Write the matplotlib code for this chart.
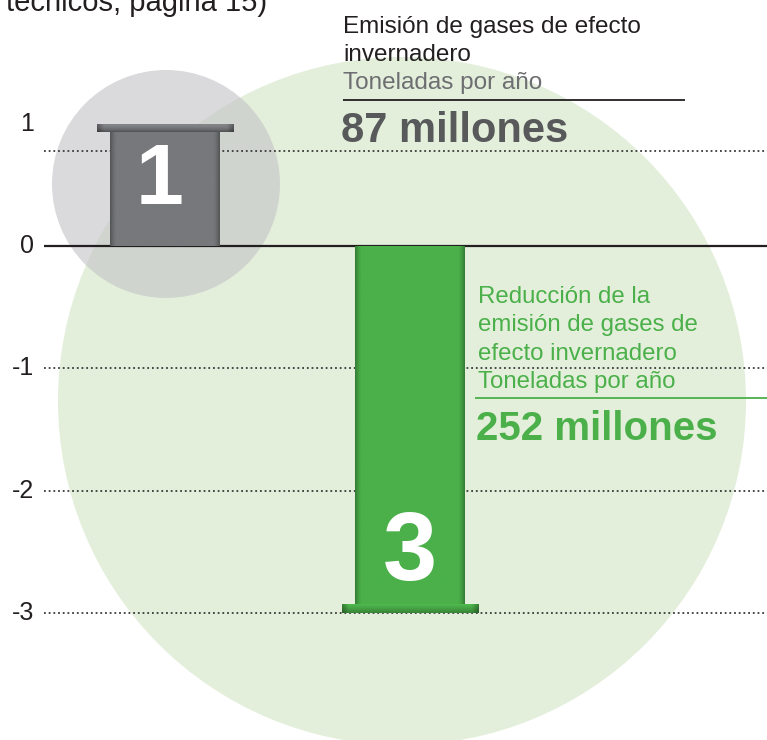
import numpy as np
import matplotlib.pyplot as plt
from matplotlib.patches import Ellipse
from matplotlib.colors import to_rgb

plt.rcParams['font.family'] = ['Liberation Sans', 'DejaVu Sans']

# ---------------- data ----------------
categories = ['Emisión', 'Reducción']
values = [1, -3]
bar_labels = ['1', '3']
ytick_values = [1, 0, -1, -2, -3]
ytick_labels = ['1', '0', '-1', '-2', '-3']
grid_values = [0.78, -1, -2, -3]
emission_title = ['Emisión de gases de efecto', 'invernadero']
emission_unit = 'Toneladas por año'
emission_amount = '87 millones'
reduction_title = ['Reducción de la', 'emisión de gases de', 'efecto invernadero']
reduction_unit = 'Toneladas por año'
reduction_amount = '252 millones'
source_text = 'técnicos, página 15)'

# ---------------- layout ----------------
W, H = 767, 740
PX = 122.3   # pixels per unit
Y0 = 246     # pixel row of zero


def vy(p):
    return (Y0 - p) / PX


fig = plt.figure(figsize=(W / 100, H / 100), dpi=100)
ax = fig.add_axes([0, 0, 1, 1])
ax.set_xlim(0, W)
ax.set_ylim(vy(H), vy(0))
ax.axis('off')

GREEN = '#4bb04a'
GREEN_LIGHT = '#e3efdb'
GRAY_BAR = '#77787b'

# background circles
ax.add_patch(Ellipse((402, vy(401)), 2 * 344, 2 * 344 / PX, color=GREEN_LIGHT, zorder=1, lw=0))
ax.add_patch(Ellipse((166, vy(184)), 2 * 114, 2 * 114 / PX, color='#c4c4c8', alpha=0.62, zorder=2, lw=0))

# grid lines
ax.hlines(grid_values, 44, W, colors='#3a3a3a', linestyles=(0, (1, 1.6)), lw=1.3, zorder=3)
ax.hlines(0, 44, W, colors='#231f20', lw=1.6, zorder=4)

# y labels
for v, lab in zip(ytick_values, ytick_labels):
    ax.text(34, v, lab, ha='right', va='center', fontsize=18, color='#231f20', zorder=6)


def shade(color, k):
    c = np.array(to_rgb(color))
    return np.clip(c * k, 0, 1)


def shaded_bar(x, v, width, cap_w, cap_h, base):
    bars = ax.bar([x], [v], width=width, bottom=0, color=base, zorder=5, lw=0)
    patch = bars[0]
    n = 200
    t = np.linspace(0, 1, n)
    edge = np.clip(1 - np.minimum(t, 1 - t) / 0.06, 0, 1)
    k = 1 - 0.3 * edge ** 1.5
    img = np.array([shade(base, kk) for kk in k])[None, :, :]
    y0, y1 = sorted([0, v])
    im = ax.imshow(img, extent=(x - width / 2, x + width / 2, y0, y1), aspect='auto',
                   zorder=5.1, interpolation='bilinear')
    im.set_clip_path(patch)
    # cap at the value end
    if v > 0:
        cb = v - cap_h
    else:
        cb = v
    caps = ax.bar([x], [cap_h], width=cap_w, bottom=cb, color=base, zorder=5.5, lw=0)
    tv = np.linspace(0, 1, 40)
    if v > 0:
        kv = 1.12 - 0.45 * tv[::-1] ** 2
        kv = kv[::-1]
    else:
        kv = 0.75 + 0.35 * tv
    th = np.linspace(0, 1, 200)
    eh = np.clip(1 - np.minimum(th, 1 - th) / 0.05, 0, 1)
    khh = 1 - 0.3 * eh
    grid = np.outer(kv, khh)
    img2 = np.stack([shade(base, 1)[None, None, i] * grid for i in range(3)], axis=-1)
    img2 = np.clip(img2, 0, 1)
    im2 = ax.imshow(img2, extent=(x - cap_w / 2, x + cap_w / 2, cb, cb + cap_h), aspect='auto',
                    origin='upper' if v > 0 else 'lower', zorder=5.6, interpolation='bilinear')
    im2.set_clip_path(caps[0])
    return patch


shaded_bar(165, values[0], 110, 137, 0.07, GRAY_BAR)
shaded_bar(410, values[1], 110, 137, 0.075, GREEN)

# big numbers on bars
ax.text(160, vy(182), bar_labels[0], ha='center', va='center', fontsize=62,
        fontweight='bold', color='white', zorder=7)
ax.text(410, vy(555), bar_labels[1], ha='center', va='center', fontsize=70,
        fontweight='bold', color='white', zorder=7)

ax.set_xlim(0, W)
ax.set_ylim(vy(H), vy(0))

# top-left text (cut by the top edge, as in the source image)
ax.text(6, vy(11), source_text, ha='left', va='baseline', fontsize=21, color='#231f20', zorder=8)

# emission block
ax.text(343, vy(33), emission_title[0], ha='left', va='baseline', fontsize=17.5, color='#231f20', zorder=8)
ax.text(343, vy(61), emission_title[1], ha='left', va='baseline', fontsize=17.5, color='#231f20', zorder=8)
ax.text(343, vy(89), emission_unit, ha='left', va='baseline', fontsize=17.5, color='#6d6e71', zorder=8)
ax.hlines(vy(99.5), 343, 685, colors='#231f20', lw=1.3, zorder=8)
ax.text(341, vy(142), emission_amount, ha='left', va='baseline', fontsize=30, fontweight='bold',
        color='#58595b', zorder=8)

# reduction block
for i, line in enumerate(reduction_title):
    ax.text(478, vy(303 + 28.3 * i), line, ha='left', va='baseline', fontsize=17.3, color=GREEN, zorder=8)
ax.text(478, vy(303 + 28.3 * 3), reduction_unit, ha='left', va='baseline', fontsize=17.3, color=GREEN, zorder=8)
ax.hlines(vy(397.5), 475, W, colors=GREEN, lw=1.3, zorder=8)
ax.text(476, vy(440), reduction_amount, ha='left', va='baseline', fontsize=29, fontweight='bold',
        color=GREEN, zorder=8)

fig.savefig('out.png', dpi=100)
